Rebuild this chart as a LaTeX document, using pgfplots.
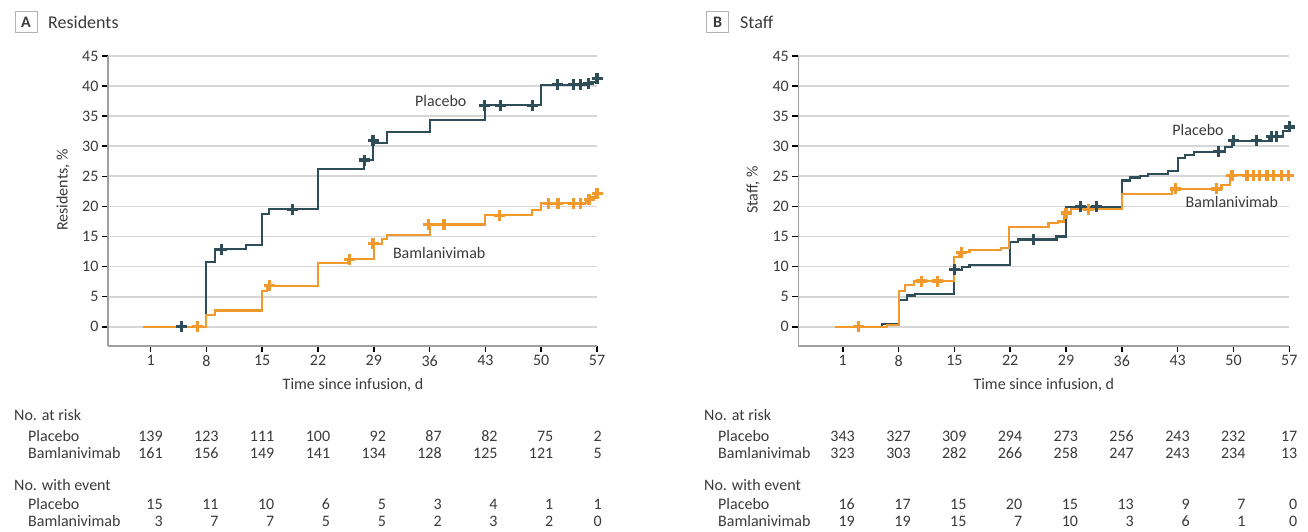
\documentclass[border=0pt]{standalone}
\usepackage{pgfplots}
\pgfplotsset{compat=1.18}
\usepackage{fontspec}
\setmainfont{Carlito}
\definecolor{plc}{HTML}{2E4D58}
\definecolor{bam}{HTML}{F2992E}
\definecolor{txt}{HTML}{3A3A3A}
\definecolor{gridc}{HTML}{D6D6D6}
\newcommand\tf{\fontsize{16}{18}\selectfont}
\pgfplotsset{km/.style={
  scale only axis, anchor=south west, height=290pt,
  axis x line=bottom, axis y line=left,
  axis line style={-, draw=gray!75, line width=1.4pt},
  xtick={1,8,15,22,29,36,43,50,57}, ytick={0,5,...,45},
  ymin=-3.2, ymax=45, xmax=57,
  tick align=outside, major tick length=6pt,
  tick style={black, line width=1.6pt},
  ymajorgrids, grid style={gridc, line width=1.8pt},
  ticklabel style={font=\tf, text=txt},
  /pgf/number format/assume math mode=true,
  clip=false,
  plc line/.style={const plot, plc, line width=2.1pt},
  bam line/.style={const plot, bam, line width=2.1pt},
  plc cens/.style={only marks, mark=+, mark size=5.5pt, plc, mark options={line width=3.2pt}},
  bam cens/.style={only marks, mark=+, mark size=5.5pt, bam, mark options={line width=3.2pt}},
}}
\newcommand\riskrow[4]{%
  \foreach \v [count=\i from 0] in {#3} {%
    \pgfmathsetmacro\xx{#1+55.8*\i+ifthenelse(\i==8,#4,12.3)}%
    \node[anchor=base east, inner sep=0pt, font=\tf, text=txt] at (\xx pt,#2 pt) {\v};
  }}
\begin{document}
\begin{tikzpicture}[x=1pt,y=1pt]
\useasboundingbox (0pt,0pt) rectangle (1308pt,532pt);
% ---------------- Panel A ----------------
\begin{axis}[km, at={(108pt,186pt)}, width=489pt, xmin=-4.35]
\addplot[plc line] coordinates {(0,0) (8,10.7) (9.1,12.9) (13,13.6) (15,18.8) (15.9,19.5) (22,26.2) (27.8,27.7) (28.9,30.6) (30.7,32.3) (36,34.3) (42.9,36.8) (50,40.2) (55.9,40.7) (56.9,41.3) (57,41.3)};
\addplot[bam line] coordinates {(0,0) (8,2.0) (9.1,2.7) (15,5.9) (15.6,6.8) (22,10.6) (25.8,11.2) (29,13.8) (30,14.6) (30.7,15.3) (36,17.0) (43,18.5) (48.9,19.4) (50,20.5) (55.6,21.1) (56.1,21.6) (56.8,22.2) (57,22.2)};
\addplot[plc cens] coordinates {(4.9,0) (9.9,12.9) (18.8,19.5) (27.8,27.7) (28.9,30.9) (42.9,36.8) (44.9,36.8) (48.9,36.8) (52,40.2) (54.1,40.2) (54.9,40.2) (55.9,40.4) (57,41.3)};
\addplot[bam cens] coordinates {(6.9,0) (15.9,6.8) (25.9,11.2) (28.9,13.8) (35.9,17.0) (37.8,17.0) (44.8,18.5) (50.9,20.5) (52.1,20.5) (54.1,20.5) (54.9,20.5) (56,21.1) (57,22.2)};
\node[font=\tf, text=txt] at (axis cs:37.4,37.5) {Placebo};
\node[font=\tf, text=txt] at (axis cs:37.2,12.2) {Bamlanivimab};
\end{axis}
% ---------------- Panel B ----------------
\begin{axis}[km, at={(798.3pt,186pt)}, width=491pt, xmin=-4.57]
\addplot[plc line] coordinates {(0,0) (5.9,0.5) (8,4.5) (9.1,5.2) (10.1,5.5) (15,9.5) (15.9,9.9) (16.9,10.3) (22,14.1) (23,14.5) (27.8,15.0) (29,19.95) (36,24.3) (37,24.8) (38.3,25.0) (39.3,25.4) (41.8,25.9) (43,28.0) (43.9,28.5) (45,29.1) (48.9,29.8) (49.8,30.9) (54.4,31.6) (56.2,32.5) (57,33.2)};
\addplot[bam line] coordinates {(0,0) (6.5,0.3) (8,5.9) (8.8,7.0) (9.9,7.6) (15,11.6) (15.6,12.4) (16.9,12.7) (20.9,13.1) (21.9,16.6) (26.8,17.2) (28,17.5) (28.7,18.9) (29.6,19.5) (36,22.0) (42.3,22.9) (48.5,23.6) (49.6,25.2) (57,25.2)};
\addplot[plc cens] coordinates {(15,9.5) (24.9,14.5) (30.8,19.95) (32.8,19.95) (48.1,29.1) (50,30.9) (52.9,30.9) (54.8,31.6) (55.4,31.6) (57,33.2)};
\addplot[bam cens] coordinates {(3,0) (10.9,7.6) (12.9,7.6) (15.9,12.4) (29,18.9) (31.8,19.5) (42.7,22.9) (47.9,22.9) (49.8,25.2) (51.7,25.2) (52.5,25.2) (53.3,25.2) (54.2,25.2) (55,25.2) (56,25.2) (56.9,25.2)};
\node[font=\tf, text=txt] at (axis cs:45.55,32.7) {Placebo};
\node[font=\tf, text=txt] at (axis cs:49.8,20.8) {Bamlanivimab};
\end{axis}
% ---------------- titles and labels ----------------
\node[draw=gray!60, line width=0.8pt, fill=white, minimum width=22pt, minimum height=21pt, inner sep=0pt, font=\fontsize{16}{18}\selectfont\bfseries, text=txt] at (26pt,510pt) {A};
\node[anchor=west, inner sep=0pt, font=\fontsize{18}{20}\selectfont, text=txt] at (48pt,510pt) {Residents};
\node[draw=gray!60, line width=0.8pt, fill=white, minimum width=22pt, minimum height=21pt, inner sep=0pt, font=\fontsize{16}{18}\selectfont\bfseries, text=txt] at (717.5pt,510pt) {B};
\node[anchor=west, inner sep=0pt, font=\fontsize{18}{20}\selectfont, text=txt] at (740pt,510pt) {Staff};
\node[rotate=90, font=\tf, text=txt] at (63pt,342pt) {Residents, \%};
\node[rotate=90, font=\tf, text=txt] at (753pt,342pt) {Staff, \%};
\node[font=\tf, text=txt] at (353pt,147pt) {Time since infusion, d};
\node[font=\tf, text=txt] at (1043.8pt,147pt) {Time since infusion, d};
% ---------------- risk tables ----------------
\foreach \ox in {14, 704} {
  \node[anchor=base west, inner sep=0pt, font=\tf, text=txt] at (\ox pt,111.3pt) {No. at risk};
  \node[anchor=base west, inner sep=0pt, font=\tf, text=txt] at (\ox pt+14pt,90.3pt) {Placebo};
  \node[anchor=base west, inner sep=0pt, font=\tf, text=txt] at (\ox pt+14pt,73.3pt) {Bamlanivimab};
  \node[anchor=base west, inner sep=0pt, font=\tf, text=txt] at (\ox pt,41.3pt) {No. with event};
  \node[anchor=base west, inner sep=0pt, font=\tf, text=txt] at (\ox pt+14pt,22.3pt) {Placebo};
  \node[anchor=base west, inner sep=0pt, font=\tf, text=txt] at (\ox pt+14pt,5.3pt) {Bamlanivimab};
}
\riskrow{150.6}{90.3}{139,123,111,100,92,87,82,75,2}{5}
\riskrow{150.6}{73.3}{161,156,149,141,134,128,125,121,5}{5}
\riskrow{150.6}{22.3}{15,11,10,6,5,3,4,1,1}{5}
\riskrow{150.6}{5.3}{3,7,7,5,5,2,3,2,0}{5}
\riskrow{842.7}{90.3}{343,327,309,294,273,256,243,232,17}{8.4}
\riskrow{842.7}{73.3}{323,303,282,266,258,247,243,234,13}{8.4}
\riskrow{842.7}{22.3}{16,17,15,20,15,13,9,7,0}{8.4}
\riskrow{842.7}{5.3}{19,19,15,7,10,3,6,1,0}{8.4}
\end{tikzpicture}
\end{document}
